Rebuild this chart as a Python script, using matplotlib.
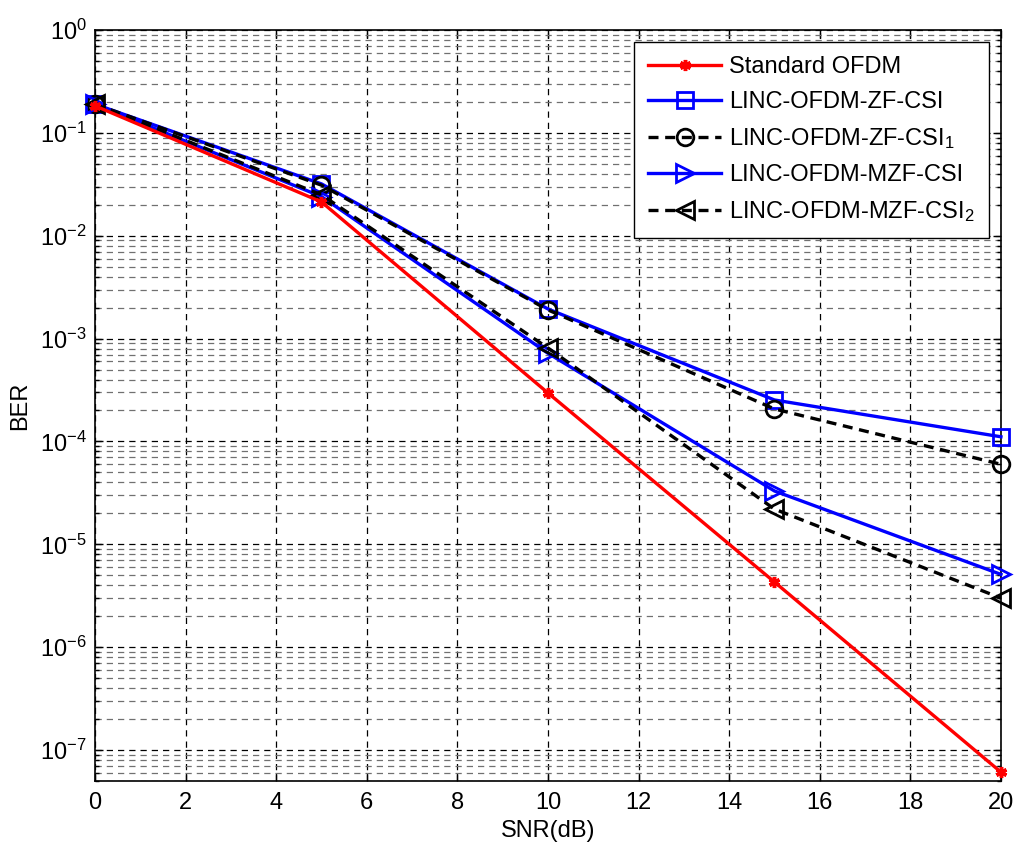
import numpy as np
import matplotlib
matplotlib.use("Agg")
from matplotlib import pyplot as plt
from matplotlib.ticker import LogLocator, NullFormatter, FixedLocator

plt.rcParams['font.family'] = ['Liberation Sans', 'DejaVu Sans']
plt.rcParams['mathtext.default'] = 'regular'

# BER curves vs SNR
snr = [0, 5, 10, 15, 20]
ber_std = [0.183, 0.0213, 2.96e-4, 4.3e-6, 6.1e-8]
ber_zf = [0.19, 0.0319, 1.94e-3, 2.53e-4, 1.11e-4]
ber_zf1 = [0.19, 0.031, 1.9e-3, 2.07e-4, 6.0e-5]
ber_mzf = [0.19, 0.024, 7.2e-4, 3.3e-5, 5.1e-6]
ber_mzf2 = [0.19, 0.025, 8.1e-4, 2.2e-5, 3.0e-6]

labels = ['Standard OFDM', 'LINC-OFDM-ZF-CSI', 'LINC-OFDM-ZF-CSI$_1$',
          'LINC-OFDM-MZF-CSI', 'LINC-OFDM-MZF-CSI$_2$']

fig = plt.figure(figsize=(10.16, 8.47), dpi=100)
ax = fig.add_axes([0.0935, 0.0779, 0.8917, 0.8867])

lw = 2.4
dash = (0, (3, 2))
ax.semilogy(snr, ber_std, color='red', lw=lw, marker=(6, 2, 0),
            ms=8, mew=2.5, label=labels[0], zorder=5, clip_on=False)
ax.semilogy(snr, ber_zf, color='blue', lw=lw, marker='s', ms=12,
            mfc='none', mew=2, label=labels[1], zorder=4, clip_on=False)
ax.semilogy(snr, ber_zf1, color='black', lw=lw, ls=dash, marker='o',
            ms=12, mfc='none', mew=2, label=labels[2], zorder=4, clip_on=False)
ax.semilogy(snr, ber_mzf, color='blue', lw=lw, marker='>', ms=13,
            mfc='none', mew=2, label=labels[3], zorder=4, clip_on=False)
ax.semilogy(snr, ber_mzf2, color='black', lw=lw, ls=dash, marker='<',
            ms=13, mfc='none', mew=2, label=labels[4], zorder=4, clip_on=False)

ax.set_xlim(0, 20)
ax.set_ylim(5e-8, 1)
ax.xaxis.set_major_locator(FixedLocator(np.arange(0, 21, 2)))
ax.yaxis.set_major_locator(LogLocator(base=10, numticks=20))
ax.yaxis.set_minor_locator(LogLocator(base=10, subs=np.arange(2, 10), numticks=20))
ax.yaxis.set_minor_formatter(NullFormatter())

# MATLAB-like grid and ticks
ax.grid(True, which='major', color='black', ls=(0, (5, 4)), lw=0.9)
ax.grid(True, which='minor', axis='y', color='#707070', ls=(0, (5, 4)), lw=0.9)
ax.tick_params(which='both', direction='in', top=True, right=True,
               labelsize=17, width=1)
ax.tick_params(which='major', length=6)
ax.tick_params(which='minor', length=3)
ax.tick_params(axis='x', pad=8)
ax.tick_params(axis='y', pad=6)
for sp in ax.spines.values():
    sp.set_linewidth(1.2)

ax.set_xlabel('SNR(dB)', fontsize=17, labelpad=4)
ax.set_ylabel('BER', fontsize=17, labelpad=6)

leg = ax.legend(loc='upper right', fontsize=17, handlelength=3.1,
                handletextpad=0.35, fancybox=False, framealpha=1,
                edgecolor='black', borderpad=0.6, labelspacing=0.55,
                borderaxespad=0.5)
leg.get_frame().set_linewidth(1.0)

fig.savefig('out.png', dpi=100)
